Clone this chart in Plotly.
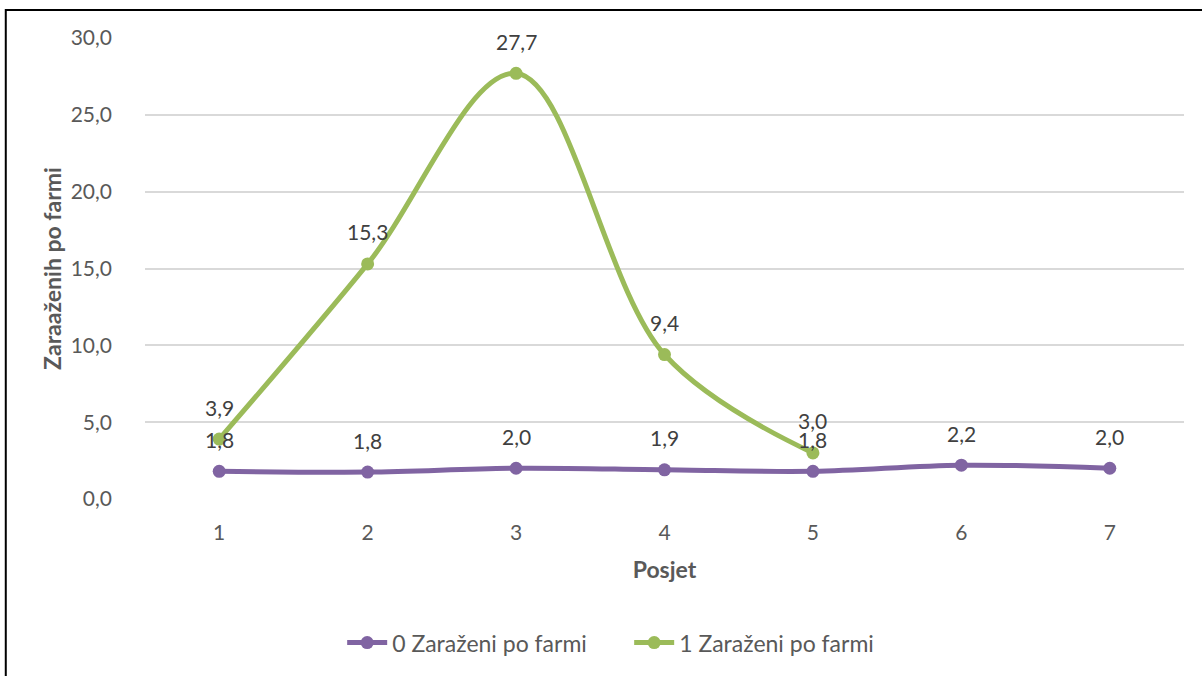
import plotly.graph_objects as go

# podaci po posjetu
posjet = [1, 2, 3, 4, 5, 6, 7]
zarazeni_0 = [1.8, 1.75, 2.0, 1.9, 1.8, 2.2, 2.0]
zarazeni_1 = [3.9, 15.3, 27.7, 9.4, 3.0]
labels_0 = ["1,8", "1,8", "2,0", "1,9", "1,8", "2,2", "2,0"]
labels_1 = ["3,9", "15,3", "27,7", "9,4", "3,0"]
y_ticks = [0, 5, 10, 15, 20, 25, 30]

purple = "#8064A2"
green = "#9BBB59"
font_name = "Lato"

fig = go.Figure()

fig.add_trace(go.Scatter(
    x=posjet, y=zarazeni_0, name="0 Zaraženi po farmi",
    mode="lines+markers", line=dict(color=purple, width=5, shape="spline", smoothing=1),
    marker=dict(size=13, color=purple),
))
fig.add_trace(go.Scatter(
    x=posjet[:len(zarazeni_1)], y=zarazeni_1, name="1 Zaraženi po farmi",
    mode="lines+markers", line=dict(color=green, width=5, shape="spline", smoothing=1),
    marker=dict(size=13, color=green),
))

# oznake podataka iznad tocaka
for xs, ys, txt in [(posjet, zarazeni_0, labels_0), (posjet, zarazeni_1, labels_1)]:
    for x, y, t in zip(xs, ys, txt):
        fig.add_annotation(x=x, y=y, text=t, showarrow=False, yshift=32,
                           font=dict(size=21, color="#404040", family=font_name))

# okvir oko grafa
fig.add_shape(type="rect", xref="paper", yref="paper",
              x0=-0.134, y0=-0.5, x1=1.1, y1=1.061,
              line=dict(color="black", width=2), fillcolor="rgba(0,0,0,0)")

fig.update_layout(
    width=1202, height=676,
    margin=dict(l=145, r=18, t=38, b=174),
    paper_bgcolor="white", plot_bgcolor="white",
    separators=",.",
    font=dict(family=font_name, size=21, color="#595959"),
    showlegend=True,
    legend=dict(orientation="h", x=0.466, xanchor="center", y=-0.265, yanchor="top",
                font=dict(size=23, color="#595959"), itemwidth=40,
                entrywidth=232, entrywidthmode="pixels"),
    xaxis=dict(
        range=[0.5, 7.5], tickvals=posjet, showgrid=False, zeroline=False,
        tickfont=dict(size=21), ticklabelstandoff=19,
        title=dict(text="<b>Posjet</b>", font=dict(size=23, color="#595959"), standoff=18),
    ),
    yaxis=dict(
        range=[0, 30], tickvals=y_ticks, tickformat=".1f",
        gridcolor="#D9D9D9", gridwidth=1.5, zeroline=False,
        tickfont=dict(size=21), ticklabelstandoff=32,
        title=dict(text="<b>Zaraaženih po farmi</b>", font=dict(size=23, color="#595959"), standoff=2),
    ),
)

fig.write_html("out.html", config={"displayModeBar": False},
               post_script="document.body.style.margin='0';")
